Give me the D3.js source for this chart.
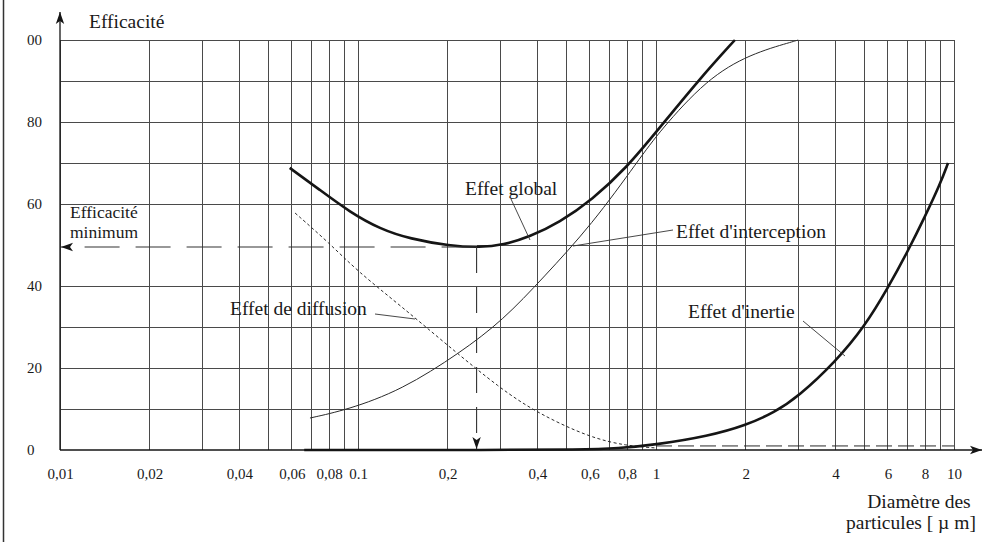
<!DOCTYPE html>
<html>
<head>
<meta charset="utf-8">
<script src="https://cdn.jsdelivr.net/npm/d3@7/dist/d3.min.js"></script>
<style>
  body { margin: 0; background: #fff; }
  svg text { font-family: "Liberation Serif", "Times New Roman", serif; fill: #1a1a1a; }
</style>
</head>
<body>
<div id="chart"></div>
<script>
const GRID_COLOR = "#4a4a4a"
const INK = "#151515"

// tick labels as printed on the original
const xTickValues = [0.01, 0.02, 0.04, 0.06, 0.08, 0.1, 0.2, 0.4, 0.6, 0.8, 1, 2, 4, 6, 8, 10];
const xTickLabels = ["0,01", "0,02", "0,04", "0,06", "0,08", "0.1", "0,2", "0,4", "0,6", "0,8", "1", "2", "4", "6", "8", "10"];
const yTickValues = [0, 20, 40, 60, 80, 100];
const yTickLabels = ["0", "20", "40", "60", "80", "00"];
const yGridValues = [10, 20, 30, 40, 50, 60, 70, 80, 90, 100];

// [diamètre µm, efficacité %]
const effetGlobal = [[0.059, 68.8], [0.0746, 63.4], [0.094, 58], [0.1186, 53.9], [0.1494, 51.5], [0.203, 49.8],
  [0.257, 49.4], [0.307, 50], [0.377, 52], [0.474, 55.5], [0.61, 61], [0.8, 69], [1.0, 77.5], [1.4, 90.5], [1.84, 100]];
const effetInterception = [[0.069, 7.8], [0.092, 9.8], [0.14, 14.6], [0.22, 23.7], [0.307, 31.7], [0.418, 42],
  [0.61, 55], [0.88, 71], [1.03, 77.8], [1.48, 90.5], [2.07, 96.6], [2.88, 99.6], [3.0, 100]];
const effetDiffusion = [[0.0615, 57.8], [0.08, 50.5], [0.1, 43.5], [0.14, 35], [0.2, 25.5], [0.3, 15], [0.4, 9],
  [0.6, 3], [0.8, 1], [1.0, 0.5]];
const effetDiffusionQueue = [[1.0, 0.5], [10, 0.5]];
const effetInertie = [[0.066, 0], [0.3, 0], [0.55, 0.1], [0.75, 0.4], [1, 1.3], [1.5, 3.4], [2, 6], [2.5, 9.2], [3, 13],
  [4, 21.5], [5, 30], [6, 39.5], [7, 48.5], [8, 57], [9, 65], [9.55, 70]];
const efficaciteMin = 49.5;
const diametreMin = 0.25;

let width = 1006, height = 542;
let x = d3.scaleLog().domain([0.01, 10]).range([60, 954]);
let y = d3.scaleLinear().domain([0, 100]).range([450, 40]);

let svg = d3.select("#chart").append("svg").attr("width", width).attr("height", height);

svg.append("defs").selectAll("marker").data(["arrowUp", "arrowRight", "arrowLeft", "arrowDown"]).join("marker")
  .attr("id", d => d)
  .attr("viewBox", "0 0 10 10").attr("refX", 10).attr("refY", 5)
  .attr("markerWidth", 12).attr("markerHeight", 12).attr("markerUnits", "userSpaceOnUse")
  .attr("orient", "auto")
  .append("path").attr("d", "M0,1.5 L10,5 L0,8.5 L2.5,5 Z").attr("fill", INK);

// page edge of the scan
svg.append("line").attr("x1", 3.5).attr("x2", 3.5).attr("y1", 0).attr("y2", height)
  .attr("stroke", "#333").attr("stroke-width", 1.5);

// grid
let grid = svg.append("g").attr("stroke", GRID_COLOR).attr("stroke-width", 1).attr("shape-rendering", "crispEdges");
grid.selectAll("line.v").data(x.ticks()).join("line").attr("class", "v")
  .attr("x1", d => x(d)).attr("x2", d => x(d)).attr("y1", y(0)).attr("y2", y(100));
grid.selectAll("line.h").data(yGridValues).join("line").attr("class", "h")
  .attr("x1", d => d == 50 ? x(diametreMin) : x(0.01)).attr("x2", x(10))
  .attr("y1", d => y(d)).attr("y2", d => y(d));

// axes
svg.append("line").attr("x1", x(0.01)).attr("x2", x(0.01)).attr("y1", y(0)).attr("y2", 12)
  .attr("stroke", INK).attr("stroke-width", 1.3).attr("marker-end", "url(#arrowUp)");
svg.append("line").attr("x1", x(0.01)).attr("x2", 982).attr("y1", y(0)).attr("y2", y(0))
  .attr("stroke", INK).attr("stroke-width", 1.3).attr("marker-end", "url(#arrowRight)");

let xAxis = svg.append("g").attr("transform", "translate(0," + y(0) + ")")
  .call(d3.axisBottom(x).tickValues(xTickValues).tickFormat((d, i) => xTickLabels[i]).tickSize(0).tickPadding(18));
xAxis.select(".domain").remove();
xAxis.attr("font-family", null);
xAxis.selectAll("text").attr("font-size", "15px").attr("fill", INK);

svg.append("g").selectAll("text").data(yTickValues).join("text")
  .attr("x", 27).attr("y", d => y(d)).attr("dy", "0.35em")
  .attr("font-size", "15px")
  .text((d, i) => yTickLabels[i]);

// curves
let line = d3.line().x(d => x(d[0])).y(d => y(d[1])).curve(d3.curveBasis);

svg.append("path").datum(effetInterception).attr("d", line)
  .attr("fill", "none").attr("stroke", "#2a2a2a").attr("stroke-width", 1);
svg.append("path").datum(effetDiffusion).attr("d", line)
  .attr("fill", "none").attr("stroke", "#2a2a2a").attr("stroke-width", 1).attr("stroke-dasharray", "3,2.5");
svg.append("path").datum(effetDiffusionQueue).attr("d", line)
  .attr("fill", "none").attr("stroke", "#2a2a2a").attr("stroke-width", 1).attr("stroke-dasharray", "16,6")
  .attr("transform", "translate(0,-2)");
svg.append("path").datum(effetGlobal).attr("d", line)
  .attr("fill", "none").attr("stroke", INK).attr("stroke-width", 2.6);
svg.append("path").datum(effetInertie).attr("d", line)
  .attr("fill", "none").attr("stroke", INK).attr("stroke-width", 2.6);

// efficacité minimum
svg.append("line").attr("x1", x(diametreMin)).attr("x2", x(0.01) + 1).attr("y1", y(efficaciteMin)).attr("y2", y(efficaciteMin))
  .attr("stroke", "#333").attr("stroke-width", 1.1).attr("stroke-dasharray", "35,16")
  .attr("marker-end", "url(#arrowLeft)");
svg.append("line").attr("x1", x(diametreMin)).attr("x2", x(diametreMin)).attr("y1", y(efficaciteMin)).attr("y2", y(0) - 1)
  .attr("stroke", "#333").attr("stroke-width", 1.1).attr("stroke-dasharray", "26,14")
  .attr("marker-end", "url(#arrowDown)");

// labels
let labels = [
  { t: "Efficacité", x: 89, y: 28, s: 19.5 },
  { t: "Efficacité", x: 70, y: 218, s: 17.5 },
  { t: "minimum", x: 70, y: 238, s: 17.5 },
  { t: "Effet global", x: 465, y: 195, s: 19.5 },
  { t: "Effet d'interception", x: 676, y: 238, s: 19.5 },
  { t: "Effet de diffusion", x: 230, y: 315, s: 19.5 },
  { t: "Effet d'inertie", x: 688, y: 318, s: 19.5 },
  { t: "Diamètre des", x: 919, y: 508, s: 19.5, a: "middle" },
  { t: "particules  [ µ m]", x: 911, y: 529, s: 19.5, a: "middle" }
];
svg.append("g").selectAll("text").data(labels).join("text")
  .attr("x", d => d.x).attr("y", d => d.y)
  .attr("text-anchor", d => d.a || "start")
  .attr("font-size", d => d.s + "px")
  .text(d => d.t);

// leader lines
let leaders = [
  [511, 199, 530, 240],
  [673, 230, 573, 246],
  [375, 314, 415, 319],
  [803, 321, 845, 356]
];
svg.append("g").selectAll("line").data(leaders).join("line")
  .attr("x1", d => d[0]).attr("y1", d => d[1]).attr("x2", d => d[2]).attr("y2", d => d[3])
  .attr("stroke", "#333").attr("stroke-width", 0.9);
</script>
</body>
</html>
